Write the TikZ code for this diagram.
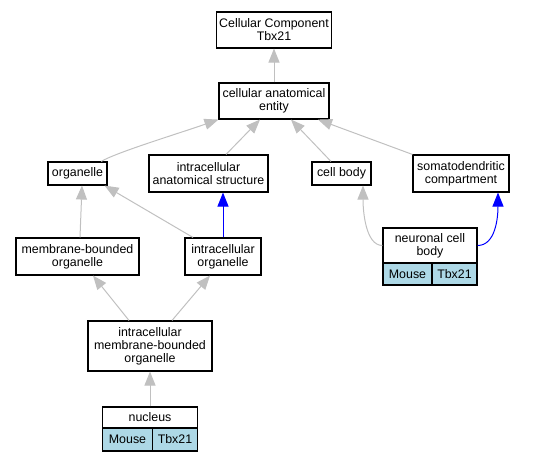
\documentclass[tikz,border=0pt]{standalone}
\usepackage{fontspec}
\setmainfont{Liberation Sans}
\usetikzlibrary{arrows.meta}
\definecolor{edgegray}{RGB}{192,192,192}
\definecolor{lightcell}{RGB}{173,216,230}
\begin{document}
\begin{tikzpicture}[x=1pt,y=-1pt,
 box/.style={draw=black, line width=1.1pt, fill=white, inner sep=0pt, align=center, font=\fontsize{12.4}{13}\selectfont},
 cellbox/.style={box, fill=lightcell},
 isa/.style={draw=edgegray, line width=1pt, -{Triangle[length=14pt,width=11pt,fill=edgegray]}},
 partof/.style={draw=blue, line width=1pt, -{Triangle[length=14pt,width=11pt,fill=blue]}}]
\useasboundingbox (0,0) rectangle (560,461);
% nodes
\node[box, minimum width=115pt, minimum height=36pt] (cc) at (274,30) {Cellular Component\\Tbx21};
\node[box, minimum width=110pt, minimum height=36pt] (cae) at (274,101) {cellular anatomical\\entity};
\node[box, minimum width=59pt, minimum height=23pt] (org) at (77.5,173.5) {organelle};
\node[box, minimum width=119pt, minimum height=37pt] (ias) at (208.5,173.5) {intracellular\\anatomical structure};
\node[box, minimum width=59pt, minimum height=23pt] (cb) at (341.5,173.5) {cell body};
\node[box, minimum width=96pt, minimum height=37pt] (sdc) at (461,173.5) {somatodendritic\\compartment};
\node[box, minimum width=123pt, minimum height=37pt] (mbo) at (77.5,256.5) {membrane-bounded\\organelle};
\node[box, minimum width=76pt, minimum height=37pt] (io) at (223,256.5) {intracellular\\organelle};
\node[box, minimum width=124pt, minimum height=50pt] (imbo) at (150,346) {intracellular\\membrane-bounded\\organelle};
\node[box, minimum width=95pt, minimum height=21pt] (nuc) at (150,417.5) {nucleus};
\node[cellbox, minimum width=50pt, minimum height=23pt] (nucM) at (127.5,439.5) {Mouse};
\node[cellbox, minimum width=45pt, minimum height=23pt] (nucT) at (175,439.5) {Tbx21};
\node[box, minimum width=94pt, minimum height=35pt] (ncb) at (430,245.5) {neuronal cell\\body};
\node[cellbox, minimum width=49pt, minimum height=22pt] (ncbM) at (407.5,274) {Mouse};
\node[cellbox, minimum width=45pt, minimum height=22pt] (ncbT) at (454.5,274) {Tbx21};
% edges
\draw[isa] (cae.north) -- (cc.south);
\draw[isa] (org.27) .. controls +(15,-9) and +(-40,14) .. (cae.south west);
\draw[isa] ([xshift=17.5pt]ias.north) -- ([xshift=-14pt]cae.south);
\draw[isa] ([xshift=-10.5pt]cb.north) -- ([xshift=17pt]cae.south);
\draw[isa] (sdc.north west) -- ([xshift=44pt]cae.south);
\draw[isa] ([xshift=2.5pt]mbo.north) -- ([xshift=4.5pt]org.south);
\draw[isa] ([xshift=-30pt]io.north) -- ([xshift=-3pt]org.south east);
\draw[partof] (io.north) -- (io.north |- ias.south);
\draw[isa] ([xshift=-21pt]imbo.north) -- ([xshift=15.5pt]mbo.south);
\draw[isa] ([xshift=22pt]imbo.north) -- ([xshift=-13pt]io.south);
\draw[isa] (nuc.north) -- (imbo.south);
\draw[isa] (ncb.west) .. controls +(-17,0) and +(0,25) .. ([xshift=21.5pt]cb.south);
\draw[partof] (ncb.east) .. controls +(18,0) and +(0,25) .. ([xshift=37pt]sdc.south);
\end{tikzpicture}
\end{document}
